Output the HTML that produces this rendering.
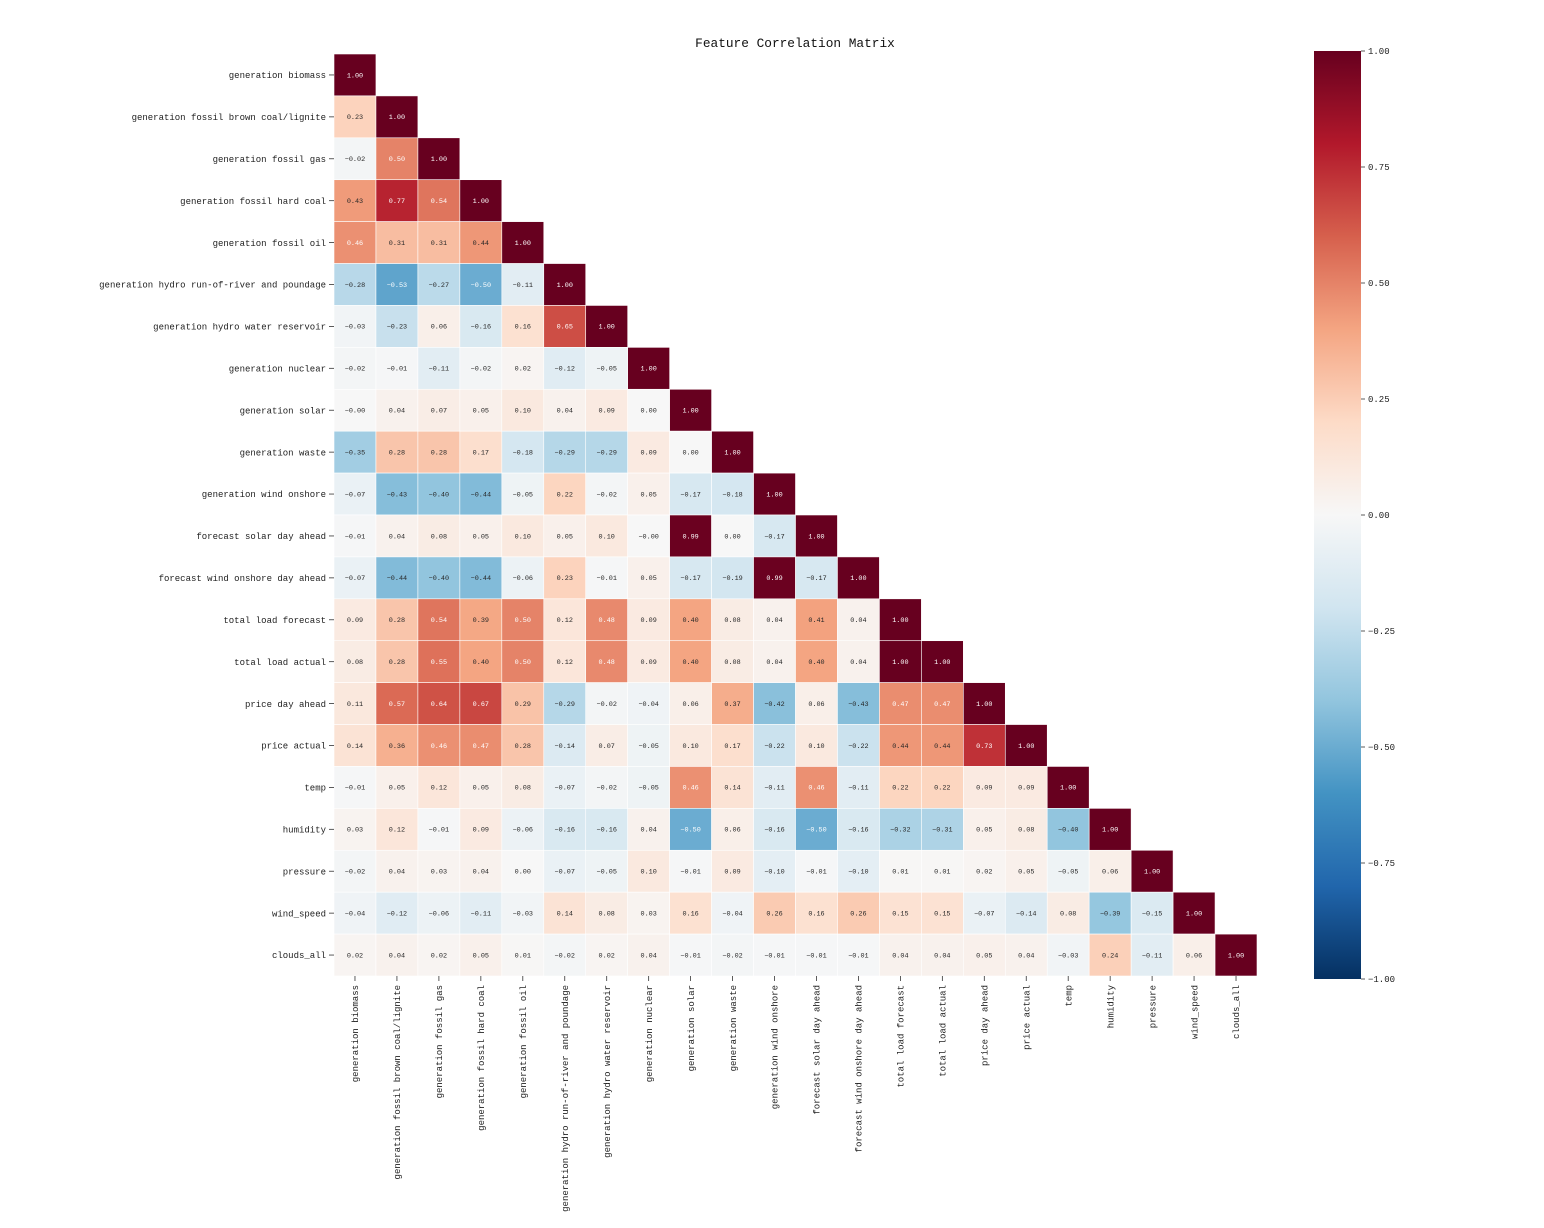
<!DOCTYPE html>
<html><head><meta charset="utf-8"><title>Feature Correlation Matrix</title>
<style>
html,body{margin:0;padding:0;background:#fff;}
svg{display:block;}
text{font-family:"Liberation Mono","DejaVu Sans Mono",monospace;}
</style></head>
<body>
<svg id="chart" width="1544" height="1228" viewBox="0 0 1544 1228" xmlns="http://www.w3.org/2000/svg">
<defs>
<linearGradient id="cbgrad" x1="0" y1="1" x2="0" y2="0">
<stop offset="0" stop-color="#053061"/><stop offset="0.1" stop-color="#2166ac"/><stop offset="0.2" stop-color="#4393c3"/><stop offset="0.3" stop-color="#92c5de"/><stop offset="0.4" stop-color="#d1e5f0"/><stop offset="0.5" stop-color="#f7f7f7"/><stop offset="0.6" stop-color="#fddbc7"/><stop offset="0.7" stop-color="#f4a582"/><stop offset="0.8" stop-color="#d6604d"/><stop offset="0.9" stop-color="#b2182b"/><stop offset="1" stop-color="#67001f"/>
</linearGradient>
</defs>
<text x="795" y="47" text-anchor="middle" font-size="12.8" fill="#111">Feature Correlation Matrix</text>
<g id="cells"></g>
<g id="ylabels"></g>
<g id="xlabels"></g>
<rect x="1314" y="51" width="47" height="928" fill="url(#cbgrad)"/>
<g id="cbticks"></g>
</svg>
<script>
const labels = ["generation biomass","generation fossil brown coal/lignite","generation fossil gas","generation fossil hard coal","generation fossil oil","generation hydro run-of-river and poundage","generation hydro water reservoir","generation nuclear","generation solar","generation waste","generation wind onshore","forecast solar day ahead","forecast wind onshore day ahead","total load forecast","total load actual","price day ahead","price actual","temp","humidity","pressure","wind_speed","clouds_all"];
const row0 = [1];
const row1 = [0.23,1];
const row2 = [-0.02,0.50,1];
const row3 = [0.43,0.77,0.54,1];
const row4 = [0.46,0.31,0.31,0.44,1];
const row5 = [-0.28,-0.53,-0.27,-0.50,-0.11,1];
const row6 = [-0.03,-0.23,0.06,-0.16,0.16,0.65,1];
const row7 = [-0.02,-0.01,-0.11,-0.02,0.02,-0.12,-0.05,1];
const row8 = [-0.00,0.04,0.07,0.05,0.10,0.04,0.09,0.00,1];
const row9 = [-0.35,0.28,0.28,0.17,-0.18,-0.29,-0.29,0.09,0.00,1];
const row10 = [-0.07,-0.43,-0.40,-0.44,-0.05,0.22,-0.02,0.05,-0.17,-0.18,1];
const row11 = [-0.01,0.04,0.08,0.05,0.10,0.05,0.10,-0.00,0.99,0.00,-0.17,1];
const row12 = [-0.07,-0.44,-0.40,-0.44,-0.06,0.23,-0.01,0.05,-0.17,-0.19,0.99,-0.17,1];
const row13 = [0.09,0.28,0.54,0.39,0.50,0.12,0.48,0.09,0.40,0.08,0.04,0.41,0.04,1];
const row14 = [0.08,0.28,0.55,0.40,0.50,0.12,0.48,0.09,0.40,0.08,0.04,0.40,0.04,1.00,1];
const row15 = [0.11,0.57,0.64,0.67,0.29,-0.29,-0.02,-0.04,0.06,0.37,-0.42,0.06,-0.43,0.47,0.47,1];
const row16 = [0.14,0.36,0.46,0.47,0.28,-0.14,0.07,-0.05,0.10,0.17,-0.22,0.10,-0.22,0.44,0.44,0.73,1];
const row17 = [-0.01,0.05,0.12,0.05,0.08,-0.07,-0.02,-0.05,0.46,0.14,-0.11,0.46,-0.11,0.22,0.22,0.09,0.09,1];
const row18 = [0.03,0.12,-0.01,0.09,-0.06,-0.16,-0.16,0.04,-0.50,0.06,-0.16,-0.50,-0.16,-0.32,-0.31,0.05,0.08,-0.40,1];
const row19 = [-0.02,0.04,0.03,0.04,0.00,-0.07,-0.05,0.10,-0.01,0.09,-0.10,-0.01,-0.10,0.01,0.01,0.02,0.05,-0.05,0.06,1];
const row20 = [-0.04,-0.12,-0.06,-0.11,-0.03,0.14,0.08,0.03,0.16,-0.04,0.26,0.16,0.26,0.15,0.15,-0.07,-0.14,0.08,-0.39,-0.15,1];
const row21 = [0.02,0.04,0.02,0.05,0.01,-0.02,0.02,0.04,-0.01,-0.02,-0.01,-0.01,-0.01,0.04,0.04,0.05,0.04,-0.03,0.24,-0.11,0.06,1];
const rows = [row0,row1,row2,row3,row4,row5,row6,row7,row8,row9,row10,row11,row12,row13,row14,row15,row16,row17,row18,row19,row20,row21];
const cbTicks = [1.00,0.75,0.50,0.25,0.00,-0.25,-0.50,-0.75,-1.00];

const NS = "http://www.w3.org/2000/svg";
const X0 = 334, X1 = 1257, Y0 = 54, Y1 = 976;
const n = labels.length;
const cw = (X1 - X0) / n, ch = (Y1 - Y0) / n;
function xPos(j){ return X0 + j * cw; }
function yPos(i){ return Y0 + i * ch; }
const CB_TOP = 51, CB_BOT = 979;
function cbY(v){ return CB_TOP + (1 - v) / 2 * (CB_BOT - CB_TOP); }

const stops = ["#053061","#2166ac","#4393c3","#92c5de","#d1e5f0","#f7f7f7","#fddbc7","#f4a582","#d6604d","#b2182b","#67001f"].map(h=>[parseInt(h.slice(1,3),16),parseInt(h.slice(3,5),16),parseInt(h.slice(5,7),16)]);
function cmap(v){
  let t = (Math.max(-1, Math.min(1, v)) + 1) / 2 * (stops.length - 1);
  let k = Math.min(Math.floor(t), stops.length - 2), f = t - k;
  return stops[k].map((c, idx) => Math.round(c + (stops[k+1][idx] - c) * f));
}
function lum(rgb){
  const c = rgb.map(x => { x /= 255; return x <= 0.03928 ? x / 12.92 : Math.pow((x + 0.055) / 1.055, 2.4); });
  return 0.2126*c[0] + 0.7152*c[1] + 0.0722*c[2];
}
function mk(tag, attrs, parent){
  const e = document.createElementNS(NS, tag);
  for (const k in attrs) e.setAttribute(k, attrs[k]);
  parent.appendChild(e);
  return e;
}
const gCells = document.getElementById("cells");
rows.forEach((r, i) => {
  r.forEach((v, j) => {
    const rgb = cmap(v);
    const rect = mk("rect", {x: xPos(j), y: yPos(i), width: cw, height: ch, fill: `rgb(${rgb.join(",")})`, stroke: "#fff", "stroke-width": 0.6}, gCells);
    
    
    const t = mk("text", {x: xPos(j) + cw/2, y: yPos(i) + ch/2 + 2.3, "text-anchor": "middle", "font-size": 6.8, fill: lum(rgb) < 0.408 ? "#fff" : "#262626"}, gCells);
    
    
    t.textContent = (Math.abs(v) < 0.005 && Object.is(v, -0) ? "-0.00" : v.toFixed(2)).replace("-", "\u2212");
  });
});
const gy = document.getElementById("ylabels");
const gx = document.getElementById("xlabels");
labels.forEach((lab, i) => {
  const cy = yPos(i) + ch/2;
  const tk = mk("line", {x1: X0 - 5, x2: X0, y1: cy, y2: cy, stroke: "#333", "stroke-width": 0.8}, gy);
  
  
  const t = mk("text", {x: X0 - 8, y: cy + 3.2, "text-anchor": "end", "font-size": 9.0, fill: "#222"}, gy);
  
  
  t.textContent = lab;
  const cx = xPos(i) + cw/2;
  const tx = mk("line", {x1: cx, x2: cx, y1: Y1, y2: Y1 + 5, stroke: "#333", "stroke-width": 0.8}, gx);
  
  
  const t2 = mk("text", {x: 0, y: 0, "text-anchor": "end", "font-size": 9.0, fill: "#222", transform: `translate(${cx + 3.2},${Y1 + 9}) rotate(-90)`}, gx);
  
  
  t2.textContent = lab;
});
const gcb = document.getElementById("cbticks");
cbTicks.forEach(v => {
  const y = cbY(v);
  const l = mk("line", {x1: 1361, x2: 1365, y1: y, y2: y, stroke: "#333", "stroke-width": 0.8}, gcb);
  
  
  const t = mk("text", {x: 1368, y: y + 3.2, "font-size": 9.0, fill: "#222"}, gcb);
  
  
  t.textContent = v.toFixed(2).replace("-", "\u2212");
});
</script>
</body></html>
